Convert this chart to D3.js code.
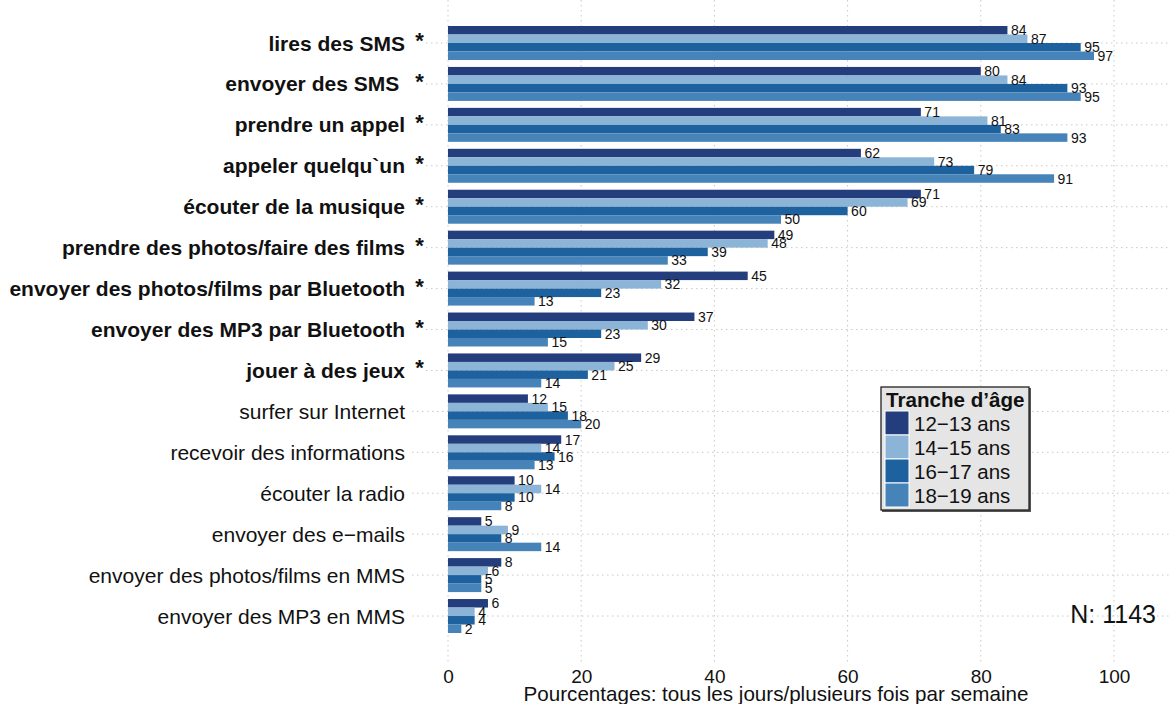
<!DOCTYPE html>
<html>
<head>
<meta charset="utf-8">
<script src="https://cdn.jsdelivr.net/npm/d3@7"></script>
<style>
  html, body { margin: 0; padding: 0; background: #fff; }
  svg { display: block; font-family: "Liberation Sans", Arial, Helvetica, sans-serif; }
</style>
</head>
<body>
<svg id="chart" width="1171" height="704"></svg>
<script>
// ---- data ----
const categories = [
  "lires des SMS", "envoyer des SMS ", "prendre un appel", "appeler quelqu`un",
  "écouter de la musique", "prendre des photos/faire des films",
  "envoyer des photos/films par Bluetooth", "envoyer des MP3 par Bluetooth",
  "jouer à des jeux", "surfer sur Internet", "recevoir des informations",
  "écouter la radio", "envoyer des e−mails", "envoyer des photos/films en MMS",
  "envoyer des MP3 en MMS"
];
const significant = [true, true, true, true, true, true, true, true, true,
  false, false, false, false, false, false];
const seriesNames = ["12−13 ans", "14−15 ans", "16−17 ans", "18−19 ans"];
const age12_13 = [84, 80, 71, 62, 71, 49, 45, 37, 29, 12, 17, 10, 5, 8, 6];
const age14_15 = [87, 84, 81, 73, 69, 48, 32, 30, 25, 15, 14, 14, 9, 6, 4];
const age16_17 = [95, 93, 83, 79, 60, 39, 23, 23, 21, 18, 16, 10, 8, 5, 4];
const age18_19 = [97, 95, 93, 91, 50, 33, 13, 15, 14, 20, 13, 8, 14, 5, 2];
const xTicks = [0, 20, 40, 60, 80, 100];
const legendTitle = "Tranche d’âge";
const xTitle = "Pourcentages: tous les jours/plusieurs fois par semaine";
const nLabel = "N: 1143";

const seriesValues = [age12_13, age14_15, age16_17, age18_19];
const colors = ["#233D7D", "#8BB4D7", "#1D619F", "#4683B9"];

// ---- layout ----
const svg = d3.select("#chart");
const panelTop = 0, panelBottom = 662, panelLeft = 412, panelRight = 1171;

const x = d3.scaleLinear().domain([0, 100]).range([448, 1114]);
const step = 40.93;
const y = d3.scaleBand()
  .domain(categories)
  .range([43 - step / 2, 43 - step / 2 + step * categories.length])
  .paddingInner(0.17)
  .paddingOuter(0.085);
const ySub = d3.scaleBand().domain(d3.range(4)).range([0, y.bandwidth()]);

const grid = svg.append("g");
// vertical gridlines
grid.selectAll("line.v").data(xTicks).join("line")
  .attr("x1", d => x(d)).attr("x2", d => x(d))
  .attr("y1", panelTop).attr("y2", panelBottom)
  .attr("stroke", "#c8c8c8").attr("stroke-width", 1)
  .attr("stroke-dasharray", "1.5,3.5");
// horizontal gridlines
grid.selectAll("line.h").data(categories).join("line")
  .attr("x1", (d, i) => significant[i] ? 426 : panelLeft)
  .attr("x2", panelRight)
  .attr("y1", d => y(d) + y.bandwidth() / 2)
  .attr("y2", d => y(d) + y.bandwidth() / 2)
  .attr("stroke", "#c8c8c8").attr("stroke-width", 1)
  .attr("stroke-dasharray", "1.5,3.5");

// bars
const rows = [];
categories.forEach((c, i) => {
  seriesValues.forEach((vals, s) => rows.push({ cat: c, s, v: vals[i] }));
});
svg.append("g").selectAll("rect").data(rows).join("rect")
  .attr("x", x(0))
  .attr("y", d => y(d.cat) + ySub(d.s))
  .attr("width", d => x(d.v) - x(0))
  .attr("height", ySub.bandwidth())
  .attr("fill", d => colors[d.s]);

// value labels
svg.append("g").selectAll("text").data(rows).join("text")
  .attr("x", d => x(d.v) + 3.5)
  .attr("y", d => y(d.cat) + ySub(d.s) + ySub.bandwidth() / 2 + 5)
  .attr("font-size", 14)
  .attr("fill", "#111")
  .text(d => d.v);

// category labels
const lab = svg.append("g");
lab.selectAll("text.cat").data(categories).join("text")
  .attr("x", 405)
  .attr("y", d => y(d) + y.bandwidth() / 2 + 7.5)
  .attr("text-anchor", "end")
  .attr("font-size", 21)
  .attr("font-weight", (d, i) => significant[i] ? "bold" : "normal")
  .attr("fill", "#111")
  .attr("xml:space", "preserve")
  .style("white-space", "pre")
  .text(d => d);
lab.selectAll("text.star").data(categories.filter((d, i) => significant[i])).join("text")
  .attr("x", 419.5)
  .attr("y", d => y(d) + y.bandwidth() / 2 + 5)
  .attr("text-anchor", "middle")
  .attr("font-size", 22)
  .attr("font-weight", "bold")
  .attr("fill", "#111")
  .text("*");

// x axis
const axis = svg.append("g")
  .attr("transform", `translate(0,${panelBottom})`)
  .call(d3.axisBottom(x).tickValues(xTicks).tickSize(0).tickPadding(8));
axis.select(".domain").remove();
axis.selectAll("text")
  .attr("font-size", 19)
  .attr("font-family", "Liberation Sans, Arial, sans-serif")
  .attr("fill", "#111");

svg.append("text")
  .attr("x", 776).attr("y", 701)
  .attr("text-anchor", "middle")
  .attr("font-size", 20.6)
  .attr("fill", "#111")
  .text(xTitle);

// N label
svg.append("text")
  .attr("x", 1156).attr("y", 623)
  .attr("text-anchor", "end")
  .attr("font-size", 25)
  .attr("fill", "#111")
  .text(nLabel);

// legend
const lg = svg.append("g").attr("transform", "translate(881,387)");
lg.append("rect").attr("x", 1).attr("y", 1).attr("width", 149).attr("height", 124)
  .attr("fill", "#555");
lg.append("rect").attr("width", 148).attr("height", 123)
  .attr("fill", "#e5e5e5").attr("stroke", "#222").attr("stroke-width", 1.3);
lg.append("text").attr("x", 5).attr("y", 20)
  .attr("font-size", 20.6).attr("font-weight", "bold").attr("fill", "#111")
  .text(legendTitle);
const key = lg.selectAll("g.k").data(seriesNames).join("g")
  .attr("transform", (d, i) => `translate(4,${24 + i * 24})`);
key.append("rect").attr("width", 24).attr("height", 24)
  .attr("fill", (d, i) => colors[i]).attr("stroke", "#fff").attr("stroke-width", 1);
key.append("text").attr("x", 29).attr("y", 20)
  .attr("font-size", 20.5).attr("fill", "#111")
  .text(d => d);
</script>
</body>
</html>
